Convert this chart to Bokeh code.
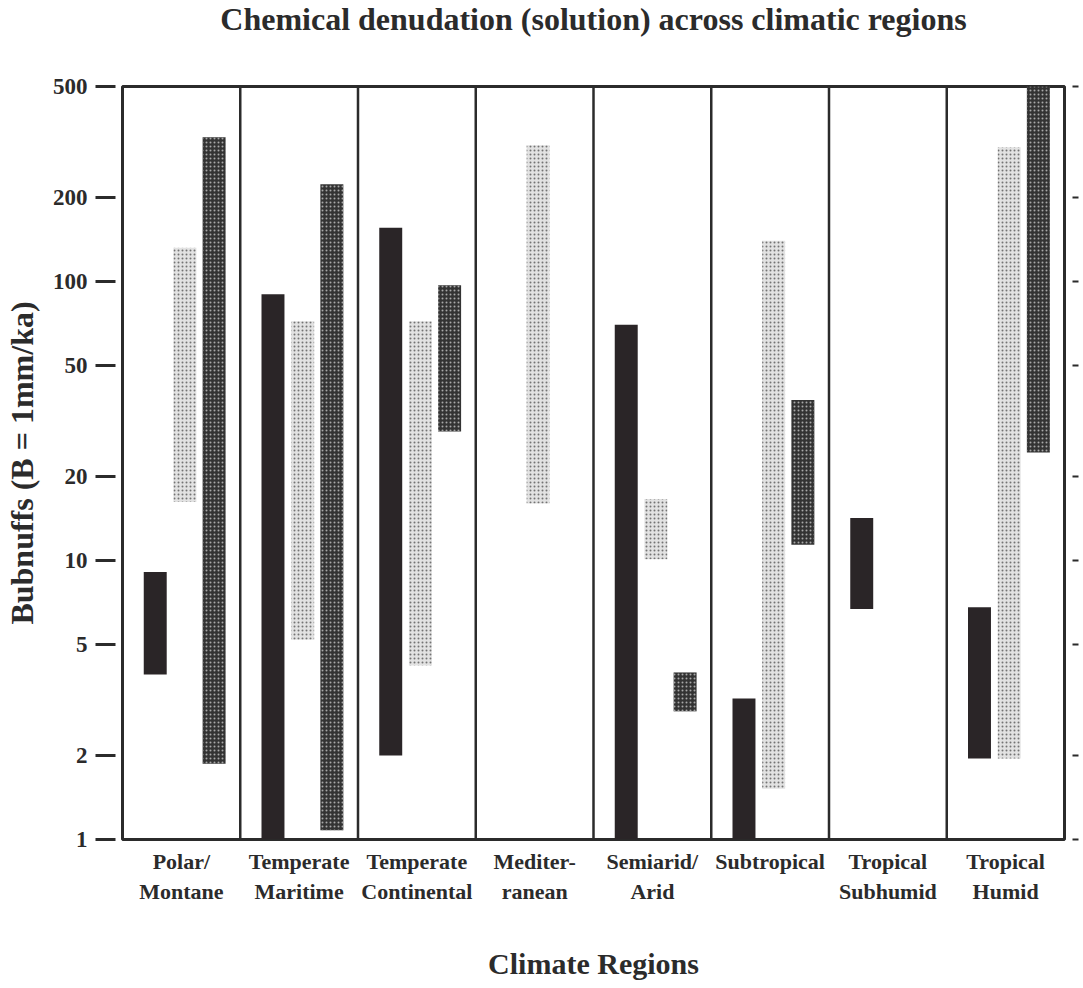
from bokeh.plotting import figure
from bokeh.models import Range1d, FixedTicker, LogAxis, ColumnDataSource
from bokeh.embed import file_html
from bokeh.resources import INLINE

categories = ["Polar/\nMontane", "Temperate\nMaritime", "Temperate\nContinental",
              "Mediter-\nranean", "Semiarid/\nArid", "Subtropical",
              "Tropical\nSubhumid", "Tropical\nHumid"]

solid_low = [3.9, 1.0, 2.0, None, 1.0, 1.0, 6.7, 1.95]
solid_high = [9.1, 90, 156, None, 70, 3.2, 14.2, 6.8]
light_low = [16.2, 5.2, 4.2, 16.0, 10.1, 1.52, None, 1.95]
light_high = [132, 72, 72, 308, 16.6, 140, None, 303]
dark_low = [1.87, 1.08, 29, None, 2.88, 11.4, None, 24.4]
dark_high = [329, 223, 97, None, 3.97, 37.6, None, 500]

y_ticks = [1, 2, 5, 10, 20, 50, 100, 200, 500]
y_tick_labels = ["1", "2", "5", "10", "20", "50", "100", "200", "500"]

TITLE = "Chemical denudation (solution) across climatic regions"
FONT = "Liberation Serif"
INK = "#2b2b2b"

p = figure(width=1080, height=986, x_range=Range1d(0, 8), y_range=Range1d(1, 500),
           y_axis_type="log", output_backend="svg", toolbar_location=None,
           min_border_left=122, min_border_top=82, min_border_bottom=147,
           min_border_right=16)

# title: a blank second line keeps the title near the top of the page
p.title.text = TITLE + "\n "
p.title.align = "center"
p.title.vertical_align = "top"
p.title.standoff = 0
p.title.text_font = FONT
p.title.text_font_size = "32px"
p.title.text_font_style = "bold"
p.title.text_color = INK
p.title.text_line_height = 1.32

p.outline_line_color = INK
p.outline_line_width = 3
p.outline_line_alpha = 1
p.xgrid.visible = False
p.ygrid.visible = False


def series(lows, highs, offset):
    xs, b, t = [], [], []
    for i, (lo, hi) in enumerate(zip(lows, highs)):
        if lo is None:
            continue
        xs.append(i + 0.5 + offset)
        b.append(lo)
        t.append(hi)
    return ColumnDataSource(dict(x=xs, bottom=b, top=t))


W = 0.195
# separators
for i in range(1, 8):
    p.segment(x0=i, y0=1.0, x1=i, y1=500, line_color=INK, line_width=2.5)

p.vbar(x="x", bottom="bottom", top="top", width=W, source=series(solid_low, solid_high, -0.222),
       fill_color="#2a2527", line_color=None)
p.vbar(x="x", bottom="bottom", top="top", width=W, source=series(light_low, light_high, 0.03),
       fill_color="#e2e2e2", line_color=None, hatch_pattern="dot", hatch_color="#737373",
       hatch_scale=4, hatch_weight=1.6)
p.vbar(x="x", bottom="bottom", top="top", width=W, source=series(dark_low, dark_high, 0.278),
       fill_color="#333333", line_color=None, hatch_pattern="dot", hatch_color="#a8a8a8",
       hatch_scale=4, hatch_weight=1.4)

# left axis
ya = p.yaxis[0]
ya.ticker = FixedTicker(ticks=y_ticks)
ya.major_label_overrides = {t: l for t, l in zip(y_ticks, y_tick_labels)}
ya.minor_tick_line_color = None
ya.axis_line_color = None
ya.major_tick_in = -7
ya.major_tick_out = 27
ya.major_tick_line_width = 3
ya.major_tick_line_color = INK
ya.major_label_text_font = FONT
ya.major_label_text_font_style = "bold"
ya.major_label_text_font_size = "23px"
ya.major_label_text_color = INK
ya.major_label_standoff = 8
ya.axis_label = "Bubnuffs (B = 1mm/ka)"
ya.axis_label_text_font = FONT
ya.axis_label_text_font_style = "bold"
ya.axis_label_text_font_size = "32px"
ya.axis_label_text_color = INK
ya.axis_label_standoff = 10

# right axis
ra = LogAxis(ticker=FixedTicker(ticks=y_ticks))
ra.major_label_overrides = {t: "" for t in y_ticks}
ra.major_label_text_font_size = "1px"
ra.minor_tick_line_color = None
ra.axis_line_color = None
ra.major_tick_in = -8
ra.major_tick_out = 14
ra.major_tick_line_width = 2
ra.major_tick_line_color = INK
ra.major_label_standoff = 0
p.add_layout(ra, "right")

# bottom axis
xa = p.xaxis[0]
xa.ticker = FixedTicker(ticks=[i + 0.5 for i in range(8)])
xa.major_label_overrides = {i + 0.5: c for i, c in enumerate(categories)}
xa.minor_tick_line_color = None
xa.major_tick_line_color = None
xa.axis_line_color = None
xa.major_label_text_font = FONT
xa.major_label_text_font_style = "bold"
xa.major_label_text_font_size = "22px"
xa.major_label_text_color = INK
xa.major_label_standoff = 3
xa.axis_label = "Climate Regions"
xa.axis_label_text_font = FONT
xa.axis_label_text_font_style = "bold"
xa.axis_label_text_font_size = "30px"
xa.axis_label_text_color = INK
xa.axis_label_standoff = 40

open("out.html", "w").write(file_html(p, INLINE))
